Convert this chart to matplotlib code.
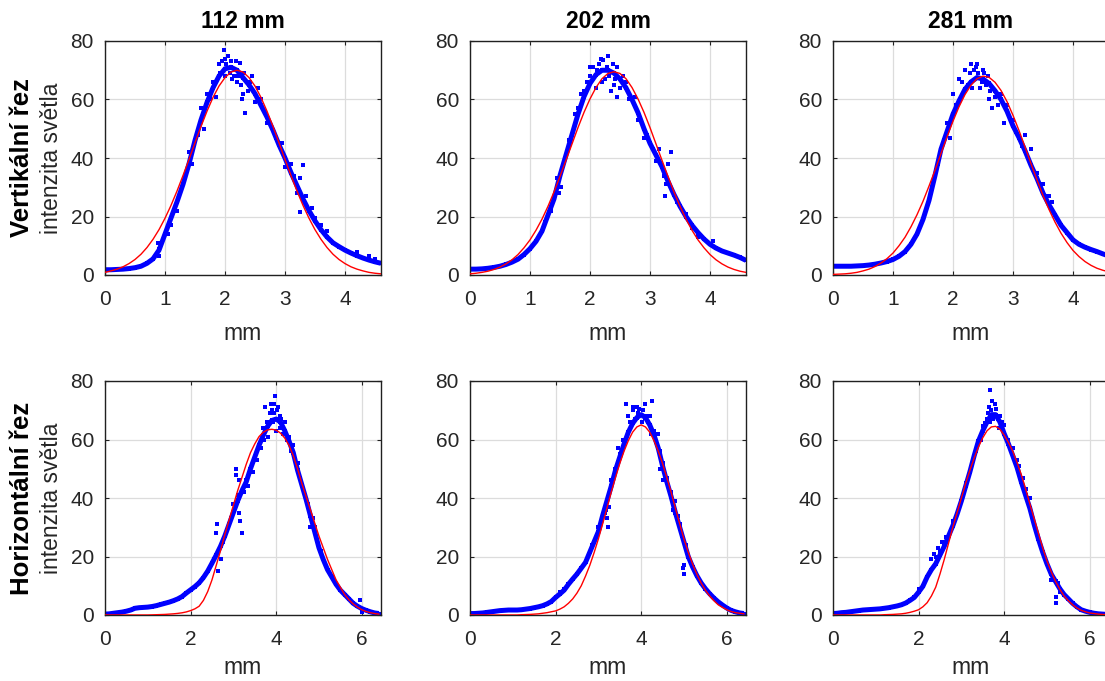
import matplotlib
matplotlib.use('Agg')
import matplotlib.pyplot as plt
import numpy as np

plt.rcParams['font.family'] = ['Liberation Sans', 'DejaVu Sans']

# column titles and row labels
titles = ['112 mm', '202 mm', '281 mm']
row_names = ['Vertikální řez', 'Horizontální řez']
y_name = 'intenzita světla'

# sample grids (mm)
x_vert = np.linspace(0, 4.6, 47)
x_horz = np.linspace(0, 6.4, 65)

# --- vertical cut, measured intensity (blue) ---
v112_meas = [1.8, 1.8, 1.9, 2.0, 2.2, 2.5, 3.0, 4.0, 5.5, 8.5, 14, 19.5, 25, 31, 38, 46,
             53, 59, 64, 68, 70.5, 71, 70, 67.5, 65, 62, 58, 54, 49.5, 44.5, 40, 35,
             30.5, 26, 22, 18.5, 15.5, 13, 11, 9.7, 8.5, 7.5, 6.6, 5.8, 5.1, 4.5, 4]
v202_meas = [2, 2, 2.1, 2.3, 2.6, 3, 3.6, 4.4, 5.4, 7, 9, 11.5, 15, 20.5, 26, 34,
             41, 48, 55, 61, 65.5, 68.5, 70, 70, 69, 67, 64, 60, 55.5, 50, 45, 41,
             37, 32, 27.5, 23.5, 20, 17, 14.5, 12.3, 10.5, 9.2, 8.2, 7.5, 6.8, 6, 5]
v281_meas = [3, 3, 3, 3, 3.1, 3.2, 3.4, 3.7, 4.1, 4.6, 5.3, 6.4, 8, 10.5, 14, 19,
             25.5, 34, 43, 49, 55, 59.5, 63.5, 66, 67.5, 67, 65.5, 63, 60, 56, 51, 47,
             42.5, 37.5, 33, 28, 24, 20.5, 17, 14.5, 12, 10.5, 9.5, 8.7, 8, 7.2, 6.5]

# --- vertical cut, gaussian fit (red) ---
v112_fit = [0.9, 1.4, 2.0, 2.8, 3.9, 5.3, 7.1, 9.4, 12.2, 15.5, 19.4, 23.8, 28.7, 34.0,
            39.5, 45.2, 50.8, 56.0, 60.7, 64.6, 67.5, 69.4, 70.0, 69.4, 67.5, 64.6, 60.7,
            56.0, 50.8, 45.2, 39.5, 34.0, 28.7, 23.8, 19.4, 15.5, 12.2, 9.4, 7.1, 5.3,
            3.9, 2.8, 2.0, 1.4, 0.9, 0.6, 0.4]
v202_fit = [0.4, 0.6, 0.9, 1.3, 1.9, 2.7, 3.8, 5.2, 7.0, 9.3, 12.0, 15.3, 19.1, 23.5,
            28.4, 33.7, 39.2, 44.8, 50.4, 55.6, 60.2, 64.1, 67.1, 68.9, 69.5, 68.9, 67.1,
            64.1, 60.2, 55.6, 50.4, 44.8, 39.2, 33.7, 28.4, 23.5, 19.1, 15.3, 12.0, 9.3,
            7.0, 5.2, 3.8, 2.7, 1.9, 1.3, 0.9]
v281_fit = [0.2, 0.3, 0.4, 0.6, 0.9, 1.4, 2.0, 2.9, 4.1, 5.6, 7.5, 10.0, 12.9, 16.5,
            20.6, 25.2, 30.4, 35.8, 41.5, 47.2, 52.6, 57.5, 61.7, 64.9, 67.1, 68.0, 67.6,
            65.9, 63.1, 59.3, 54.6, 49.4, 43.8, 38.1, 32.5, 27.2, 22.4, 18.1, 14.3, 11.1,
            8.4, 6.3, 4.6, 3.3, 2.3, 1.6, 1.1]

# --- horizontal cut, measured intensity (blue) ---
h112_meas = [0.3, 0.4, 0.6, 0.8, 1.0, 1.3, 1.7, 2.3, 2.5, 2.6, 2.7, 2.9, 3.2, 3.6, 4.0,
             4.4, 4.9, 5.5, 6.3, 7.5, 8.6, 9.7, 11, 12.8, 15, 17.7, 20.5, 23.5, 27, 31,
             35, 39, 42.5, 45.5, 50, 54, 58, 61.5, 64.5, 66.5, 67, 66, 63, 59.5, 55.5,
             49.5, 44.5, 39.5, 34, 28.5, 23, 19, 15.5, 13, 10.5, 8.5, 7, 5.5, 4, 3, 2.2,
             1.6, 1.1, 0.7, 0.5]
h202_meas = [0.5, 0.5, 0.6, 0.7, 0.9, 1.1, 1.3, 1.5, 1.6, 1.7, 1.7, 1.7, 1.8, 2.0, 2.2,
             2.5, 2.8, 3.2, 3.8, 4.6, 6, 7.2, 8.5, 10.5, 12.3, 14, 16, 18, 21.5, 25,
             28.5, 34, 39, 44, 49.5, 54, 58.5, 62.5, 65.5, 67.5, 68.5, 67.5, 65, 61.5, 57,
             51, 45.5, 40.5, 35, 30, 25, 20, 16.5, 13.5, 11, 9, 7.3, 5.8, 4.5, 3.4, 2.4,
             1.6, 1.1, 0.7, 0.5]
h281_meas = [0.5, 0.6, 0.8, 0.9, 1.1, 1.3, 1.5, 1.7, 1.8, 1.9, 2.0, 2.1, 2.3, 2.5, 2.8,
             3.1, 3.5, 4.1, 5, 6, 7.8, 9.8, 13, 15.5, 17.5, 20.5, 23.5, 27, 30.5, 34.5,
             39, 44, 49, 54.5, 59.5, 63, 66, 68.5, 68.5, 66, 62, 58.5, 54.5, 50.5, 45.5,
             41, 36.5, 31, 26, 21.5, 17.5, 14, 11.5, 9, 7, 5.5, 4, 2.8, 1.8, 1.3, 0.9,
             0.6, 0.4, 0.3, 0.2]

# --- horizontal cut, gaussian fit (red) ---
h112_fit = [0, 0, 0, 0, 0, 0, 0, 0, 0, 0, 0, 0.05, 0.1, 0.15, 0.2, 0.3, 0.4, 0.55, 0.75,
            1.05, 1.5, 2.1, 3.0, 5.0, 8.0, 12.0, 17.0, 22.0, 27.5, 32.5, 37.5, 42.5,
            47.0, 51.5, 55.5, 58.5, 61.0, 62.5, 63.3, 63.5, 63.2, 62.2, 60.5, 58.0, 54.5,
            50.0, 45.0, 40.5, 36.0, 31.5, 27.0, 23.0, 19.0, 15.5, 12.0, 9.5, 7.0, 5.2,
            3.8, 2.7, 1.8, 1.2, 0.8, 0.5, 0.3]
h202_fit = [0, 0, 0, 0, 0, 0, 0, 0, 0, 0, 0, 0, 0.1, 0.15, 0.2, 0.3, 0.4, 0.6, 0.8, 1.1,
            1.4, 2.0, 2.8, 4.0, 5.5, 7.5, 10.0, 13.3, 17.0, 21.3, 26.0, 31.2, 36.5, 42.0,
            47.0, 51.8, 56.0, 59.6, 62.5, 64.3, 65.0, 64.3, 62.5, 59.6, 56.0, 51.8, 47.0,
            42.0, 36.5, 31.2, 26.0, 21.5, 17.5, 14.0, 11.0, 8.5, 6.5, 4.9, 3.5, 2.6, 1.8,
            1.2, 0.8, 0.6, 0.4]
h281_fit = [0, 0, 0, 0, 0, 0, 0, 0, 0, 0, 0, 0, 0.1, 0.15, 0.2, 0.3, 0.4, 0.6, 0.9, 1.3,
            1.8, 2.8, 4.2, 6.5, 9.5, 14.0, 19.0, 24.5, 30.0, 35.0, 40.0, 45.0, 49.5, 53.7,
            57.5, 60.6, 63.0, 64.3, 64.5, 63.5, 61.5, 59.0, 56.0, 52.2, 48.0, 43.2, 38.0,
            33.0, 28.0, 23.0, 18.5, 14.8, 11.5, 8.8, 6.5, 4.9, 3.5, 2.4, 1.6, 1.1, 0.7,
            0.5, 0.3, 0.2, 0.1]

# --- scattered noisy samples around the main band ---
v112_nx = [1.98, 2.05, 2.1, 2.25, 1.9, 2.2, 2.3, 2.33, 2.28, 2.45, 2.6, 1.7, 1.6, 3.3,
           3.25, 3.25, 3.2, 0.9, 0.9, 0.88, 1.4, 1.45, 1.35, 2.95, 3.0, 3.6, 3.7, 4.2,
           4.4, 4.5, 3.1, 2.15, 2.0,
           1.92, 1.95, 2.0, 2.02, 2.08, 2.12, 2.18, 2.22, 2.27, 2.32, 2.38, 2.42, 2.5,
           2.55, 1.85, 1.8, 1.75, 1.65, 1.55, 2.7, 2.85, 3.15, 3.35, 3.45, 3.5, 1.2,
           1.1, 1.05]
v112_ny = [77, 75, 73, 72.5, 72, 66, 62, 55.5, 60, 68, 60, 62, 57, 37.5, 33, 21.5, 28,
           6.5, 9, 11, 42, 38, 35, 45, 37, 17, 15, 8, 6.5, 5.5, 38, 68, 74,
           69, 73, 68, 72, 69, 67, 73, 68, 65, 69, 63, 66, 59, 64, 61, 66, 60, 50, 48,
           52, 47, 34, 27, 23, 19.5, 22, 17, 14]
v202_nx = [2.3, 2.22, 2.15, 2.05, 2.45, 2.35, 2.45, 2.4, 2.1, 1.95, 2.6, 3.25, 3.27,
           3.23, 3.35, 3.3, 1.48, 1.52, 1.45, 1.65, 1.75, 2.9, 3.05, 3.8, 4.05, 2.75,
           2.0, 2.2, 1.85,
           2.12, 2.18, 2.25, 2.28, 2.32, 2.38, 2.42, 2.5, 2.55, 2.0, 1.9, 1.8, 2.65,
           2.8, 2.95, 3.1, 3.15, 3.45, 3.6, 3.7, 1.35, 1.25]
v202_ny = [75, 73.5, 72, 71, 71, 63, 61, 65, 64, 66, 66, 27, 31, 34, 42, 38, 28, 30,
           33, 46, 55, 47, 43, 13, 11.5, 61, 71, 66, 62,
           70, 74, 67, 71, 68, 72, 67, 64, 68, 68, 63, 57, 60, 53, 48, 39, 43, 25, 21,
           16, 22, 18]
v281_nx = [2.3, 2.35, 2.2, 2.25, 2.1, 2.0, 1.95, 1.9, 2.45, 2.6, 2.65, 2.75, 2.85, 3.2,
           3.3, 3.5, 3.6, 3.65, 2.5, 2.4,
           2.15, 2.28, 2.32, 2.38, 2.42, 2.48, 2.52, 2.55, 2.58, 2.62, 2.7, 2.8, 2.9,
           3.0, 3.05, 3.15, 3.25, 3.4, 3.55, 1.85, 1.75, 2.05]
v281_ny = [72, 70, 70, 65, 67, 62, 47, 52, 64, 60, 57, 58, 52, 48, 43, 31, 27, 25, 70, 72,
           66, 69, 64, 71, 69, 66, 69, 65, 68, 63, 61, 62, 58, 53, 49, 44, 40, 35, 27,
           46, 38, 58]
h112_nx = [3.98, 3.95, 3.75, 3.85, 4.05, 4.1, 3.7, 3.8, 4.2, 4.25, 3.05, 3.05, 3.2,
           3.15, 3.12, 3.12, 2.62, 2.6, 2.65, 2.7, 3.3, 3.0, 4.75, 4.8, 4.85, 5.95, 6.0,
           4.5, 4.4, 3.9,
           3.88, 3.92, 3.96, 4.0, 4.02, 4.08, 4.12, 4.15, 3.78, 3.72, 3.65, 3.55, 3.45,
           3.35, 3.25, 3.1, 2.95, 2.85, 4.3, 4.35, 4.55, 4.65, 4.9, 5.05, 2.75, 2.55]
h112_ny = [75, 72, 71, 69, 71, 68, 64, 61, 66, 60, 48, 50, 28, 32, 35, 46, 31, 28, 15,
           19, 46, 38, 38, 30, 33, 5, 1, 52, 58, 70,
           72, 66, 69, 63, 70, 64, 67, 62, 66, 60, 57, 53, 49, 44, 42, 41, 33, 29, 61,
           56, 47, 42, 30, 22, 25, 19]
h202_nx = [3.65, 3.7, 3.8, 3.9, 4.1, 4.25, 4.15, 4.35, 4.4, 4.45, 4.5, 4.5, 3.45, 3.2,
           3.22, 3.18, 4.9, 4.95, 5.0, 5.0, 4.98, 2.1, 4.8, 4.75, 4.45,
           3.75, 3.82, 3.86, 3.92, 3.96, 4.02, 4.05, 4.12, 4.2, 4.22, 4.3, 3.58, 3.5,
           3.4, 3.3, 3.25, 3.15, 4.6, 4.7, 4.85, 5.05, 3.0, 2.85, 2.2]
h202_ny = [72, 68, 70, 71, 72, 73, 66, 59, 62, 50, 46, 52, 57, 33, 30, 36, 31, 27, 17,
           14, 16, 8, 39, 36, 56,
           66, 71, 67, 69, 70.5, 66, 70, 68, 68, 62, 63, 60, 55, 50, 46, 37, 35, 47, 42,
           34, 24, 30, 24, 9]
h281_nx = [3.67, 3.72, 3.65, 3.8, 3.55, 3.6, 3.9, 4.0, 4.3, 4.45, 4.6, 2.35, 2.45, 2.3,
           5.2, 5.2, 5.25, 2.55, 3.1, 2.0,
           3.62, 3.68, 3.7, 3.75, 3.78, 3.85, 3.88, 3.95, 3.5, 3.45, 3.35, 4.1, 4.2,
           4.35, 4.5, 2.4, 2.5, 2.65, 2.8, 5.1, 5.3]
h281_ny = [77, 73, 71, 70.5, 65.5, 67, 68, 65, 53, 47, 40, 21, 23, 19, 6, 4, 11, 25,
           45, 9,
           69, 66, 70, 67, 72, 67, 64, 66, 64.5, 60, 56, 60, 57, 51, 43, 20, 22, 26.5,
           32, 12, 8]

panels = [
    [(x_vert, v112_meas, v112_fit, v112_nx, v112_ny),
     (x_vert, v202_meas, v202_fit, v202_nx, v202_ny),
     (x_vert, v281_meas, v281_fit, v281_nx, v281_ny)],
    [(x_horz, h112_meas, h112_fit, h112_nx, h112_ny),
     (x_horz, h202_meas, h202_fit, h202_nx, h202_ny),
     (x_horz, h281_meas, h281_fit, h281_nx, h281_ny)],
]

W, H = 1105, 681
fig = plt.figure(figsize=(W / 100, H / 100), dpi=100)

lefts = [105, 470, 833]
tops = [41, 381]
ax_w, ax_h = 276, 234
xlims = [(0, 4.6), (0, 6.45)]
xticks = [[0, 1, 2, 3, 4], [0, 2, 4, 6]]
label_pads = [9, 5]
txt = '#262626'

for r in range(2):
    for c in range(3):
        xs, yb, yf, nx, ny = panels[r][c]
        ax = fig.add_axes([lefts[c] / W, 1 - (tops[r] + ax_h) / H, ax_w / W, ax_h / H])
        ax.plot(xs, yb, color='blue', lw=3.6, solid_capstyle='butt', zorder=2)
        ax.plot(xs, yb, 's', color='blue', ms=2.6, mew=0, zorder=2)
        ax.plot(nx, ny, 's', color='blue', ms=2.6, mew=0, zorder=2)
        ax.plot(xs, yf, color='red', lw=1.0, zorder=3)
        ax.set_xlim(*xlims[r])
        ax.set_ylim(0, 80)
        ax.set_xticks(xticks[r])
        ax.set_yticks([0, 20, 40, 60, 80])
        ax.grid(True, color='#dcdcdc', lw=0.9)
        ax.set_axisbelow(True)
        for s in ax.spines.values():
            s.set_color('#202020')
            s.set_linewidth(1.0)
        ax.tick_params(direction='in', length=3, width=0.8, colors='#202020',
                       labelcolor=txt, labelsize=15, top=True, right=True)
        ax.tick_params(axis='x', pad=11)
        ax.tick_params(axis='y', pad=8)
        ax.set_xlabel('mm', fontsize=16.5, color=txt, labelpad=label_pads[r])
        if r == 0:
            ax.set_title(titles[c], fontsize=16.5, fontweight='bold', pad=9)

for r in range(2):
    yc = 1 - (tops[r] + ax_h / 2) / H
    fig.text(22 / W, yc, row_names[r], rotation=90, ha='center', va='center',
             fontsize=18.5, fontweight='bold', color='black')
    fig.text(52 / W, yc, y_name, rotation=90, ha='center', va='center',
             fontsize=16.5, color=txt)

fig.savefig('out.png', dpi=100)
